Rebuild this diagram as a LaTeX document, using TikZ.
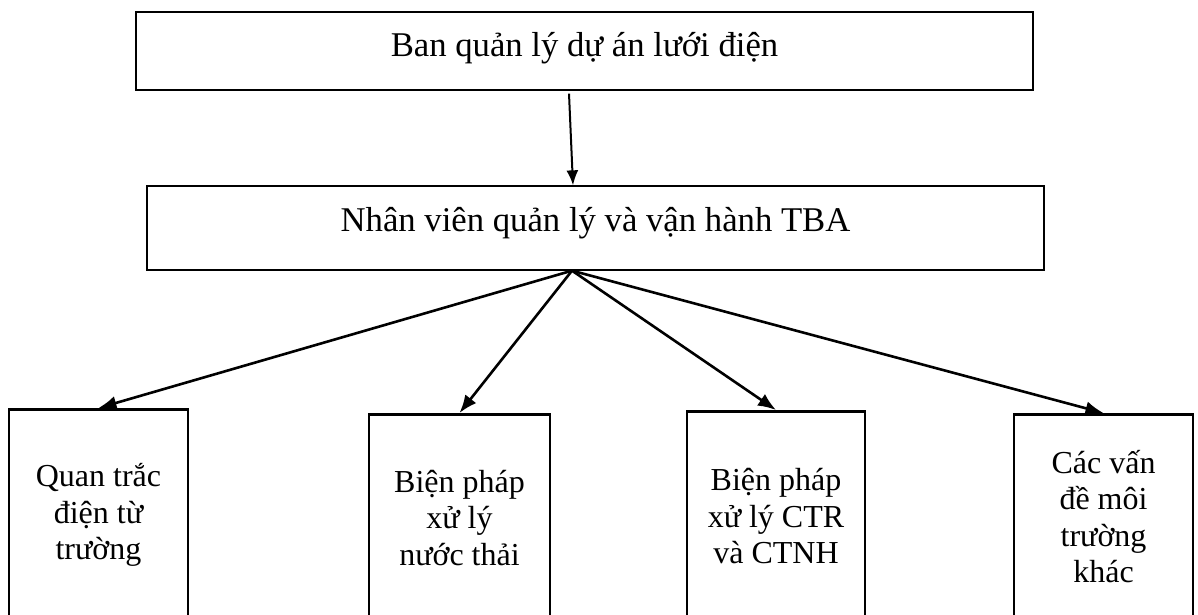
\documentclass[tikz,border=0pt]{standalone}
\usepackage{fontspec}
\setmainfont{Liberation Serif}
\usetikzlibrary{arrows.meta}

\tikzset{
  box/.style={draw, line width=1.3pt, inner sep=0pt, minimum width=897pt,
    font=\fontsize{34.7}{40}\selectfont},
  leaf/.style={draw, line width=2.6pt, anchor=north, align=center, inner sep=0pt,
    font=\fontsize{32}{36.5}\selectfont}
}

\begin{document}
\begin{tikzpicture}[x=1pt,y=-1pt,>={Latex[length=18pt,width=14pt]}]
\clip (0,0) rectangle (1198,614);

\node[box, minimum height=78pt, text height=44pt, text depth=34pt] (ban) at (584.5,51) {Ban quản lý dự án lưới điện};
\node[box, minimum height=84pt, text height=45pt, text depth=39pt] (nv) at (595.5,228) {Nhân viên quản lý và vận hành TBA};

\node[leaf, minimum width=179pt, minimum height=212pt] (q) at (98.5,408) {Quan trắc\\điện từ\\trường};
\node[leaf, minimum width=181pt, minimum height=207pt] (b) at (459.5,413) {Biện pháp\\xử lý\\nước thải};
\node[leaf, minimum width=178pt, minimum height=210pt] (c) at (776,410) {Biện pháp\\xử lý CTR\\và CTNH};
\node[leaf, minimum width=179pt, minimum height=205pt] (k) at (1103.5,413) {Các vấn\\đề môi\\trường\\khác};

\draw[->, >={Latex[length=15pt,width=12pt]}, line width=2pt] ([xshift=-15.5pt,yshift=-3pt]ban.south) -- ([xshift=-22.5pt]nv.north);

\coordinate (fan) at ([xshift=-23.5pt]nv.south);
\foreach \b in {q,b,c,k}
  \draw[->, line width=2.6pt] (fan) -- (\b.north);
\end{tikzpicture}
\end{document}
